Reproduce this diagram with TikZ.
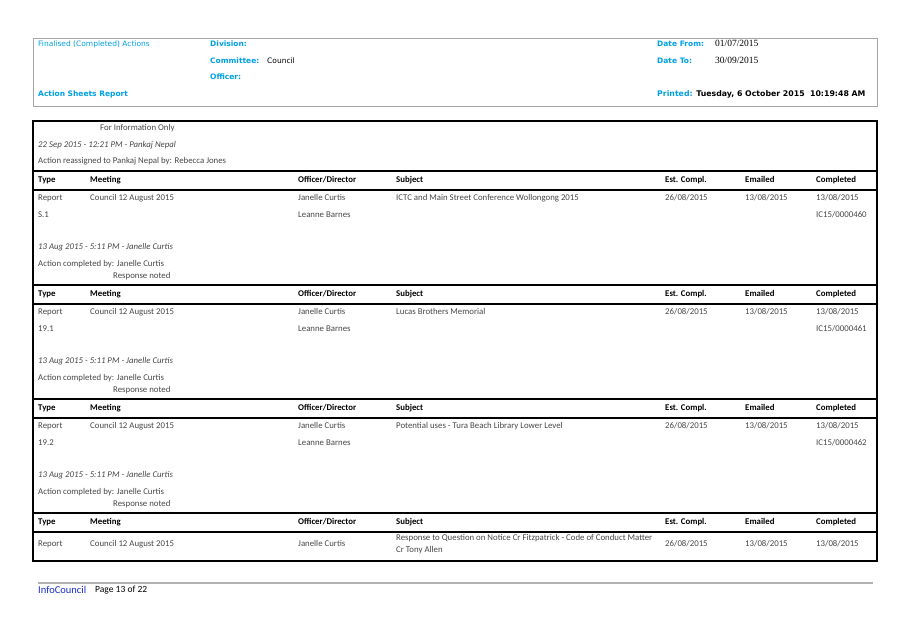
\documentclass[tikz,border=0pt]{standalone}
\usepackage{fontspec}
\setmainfont{Carlito}
\newfontfamily\hdfont{DejaVu Sans}
\newfontfamily\datefont{Liberation Serif}
\definecolor{infocyan}{RGB}{0,160,228}
\definecolor{infoblue}{RGB}{25,45,200}
\definecolor{bodygray}{RGB}{70,70,70}
\begin{document}
\begin{tikzpicture}[x=1pt,y=-1pt,
    bodytext/.style={anchor=west,inner sep=0pt,text height=6.5pt,text depth=2pt,text=bodygray,font=\fontsize{8.8}{11}\selectfont},
    notetext/.style={bodytext,font=\fontsize{8.8}{11}\selectfont\itshape},
    colhead/.style={anchor=west,inner sep=0pt,text height=6.5pt,text depth=2pt,font=\fontsize{8.8}{11}\selectfont\bfseries},
    hdlabel/.style={anchor=west,inner sep=0pt,text height=6pt,text depth=1.6pt,text=infocyan,font=\hdfont\fontsize{7.5}{9}\selectfont\bfseries},
    hdvalue/.style={anchor=west,inner sep=0pt,text height=6pt,text depth=1.6pt,font=\hdfont\fontsize{7.5}{9}\selectfont},
    datevalue/.style={anchor=west,inner sep=0pt,text height=6pt,text depth=1.6pt,font=\datefont\fontsize{9.5}{11}\selectfont},
    band/.style={line width=2pt}]
    \useasboundingbox (0,0) rectangle (909,643);
    % report heading
    \draw[gray!70,line width=1pt] (33,38) rectangle (877,106);
    \node[hdvalue,text=infocyan] (title) at (38,44) {Finalised (Completed) Actions};
    \node[hdlabel] (division) at (210,44) {Division:};
    \node[hdlabel] (committee) at (210,61) {Committee:};
    \node[hdvalue] (council) at (267,61) {Council};
    \node[hdlabel] (officer) at (210,77) {Officer:};
    \node[hdlabel] (report) at (38,94) {Action Sheets Report};
    \node[hdlabel] (datefrom) at (657,44) {Date From:};
    \node[datevalue] (from) at (715,44) {01/07/2015};
    \node[hdlabel] (dateto) at (657,61) {Date To:};
    \node[datevalue] (to) at (715,61) {30/09/2015};
    \node[hdlabel,font=\hdfont\fontsize{7.8}{9}\selectfont\bfseries] (printed) at (657,94) {Printed: \textcolor{black}{Tuesday, 6 October 2015\ \ 10:19:48 AM}};
    % table
    \draw[line width=1.3pt] (33,121) rectangle (877,561);
    \node[bodytext] (info) at (100,128) {For Information Only};
    \node[notetext] (note0) at (38,145) {22 Sep 2015 - 12:21 PM - Pankaj Nepal};
    \node[bodytext] (reassign) at (38,161) {Action reassigned to Pankaj Nepal by: Rebecca Jones};
    \foreach \h in {171,285,399,513}
    {
      \draw[band] (33,\h) -- (877,\h);
      \draw[band] (33,\h+19) -- (877,\h+19);
      \node[colhead] (type\h) at (38,\h+9) {Type};
      \node[colhead] (meeting\h) at (90,\h+9) {Meeting};
      \node[colhead] (officer\h) at (298,\h+9) {Officer/Director};
      \node[colhead] (subject\h) at (396,\h+9) {Subject};
      \node[colhead] (est\h) at (665,\h+9) {Est. Compl.};
      \node[colhead] (emailed\h) at (745,\h+9) {Emailed};
      \node[colhead] (completed\h) at (816,\h+9) {Completed};
    }
    \foreach \h/\item/\subj/\num in {171/S.1/ICTC and Main Street Conference Wollongong 2015/460,
      285/19.1/Lucas Brothers Memorial/461,
      399/19.2/Potential uses - Tura Beach Library Lower Level/462}
    {
      \node[bodytext] (kind\h) at (38,\h+27) {Report};
      \node[bodytext] (item\h) at (38,\h+44) {\item};
      \node[bodytext] (mtg\h) at (90,\h+27) {Council 12 August 2015};
      \node[bodytext] (who\h) at (298,\h+27) {Janelle Curtis};
      \node[bodytext] (dir\h) at (298,\h+44) {Leanne Barnes};
      \node[bodytext] (subj\h) at (396,\h+27) {\subj};
      \node[bodytext] (due\h) at (665,\h+27) {26/08/2015};
      \node[bodytext] (sent\h) at (745,\h+27) {13/08/2015};
      \node[bodytext] (done\h) at (816,\h+27) {13/08/2015};
      \node[bodytext] (doc\h) at (816,\h+44) {IC15/0000\num};
      \node[notetext] (note\h) at (38,\h+76) {13 Aug 2015 - 5:11 PM - Janelle Curtis};
      \node[bodytext] (action\h) at (38,\h+93) {Action completed by: Janelle Curtis};
      \node[bodytext] (resp\h) at (113,\h+105) {Response noted};
    }
    \node[bodytext] (kind513) at (38,544) {Report};
    \node[bodytext] (mtg513) at (90,544) {Council 12 August 2015};
    \node[bodytext] (who513) at (298,544) {Janelle Curtis};
    \node[bodytext] (subj513) at (396,538) {Response to Question on Notice Cr Fitzpatrick - Code of Conduct Matter};
    \node[bodytext] (subjb513) at (396,550) {Cr Tony Allen};
    \node[bodytext] (due513) at (665,544) {26/08/2015};
    \node[bodytext] (sent513) at (745,544) {13/08/2015};
    \node[bodytext] (done513) at (816,544) {13/08/2015};
    % footer
    \draw[gray!60,line width=1.5pt] (38,583) -- (873,583);
    \node[anchor=west,inner sep=0pt,text=infoblue,font=\fontsize{10.5}{12}\selectfont] (brand) at (38,590) {InfoCouncil};
    \node[anchor=west,inner sep=0pt,font=\fontsize{9.5}{11}\selectfont] (page) at (95,590) {Page 13 of 22};
\end{tikzpicture}
\end{document}
